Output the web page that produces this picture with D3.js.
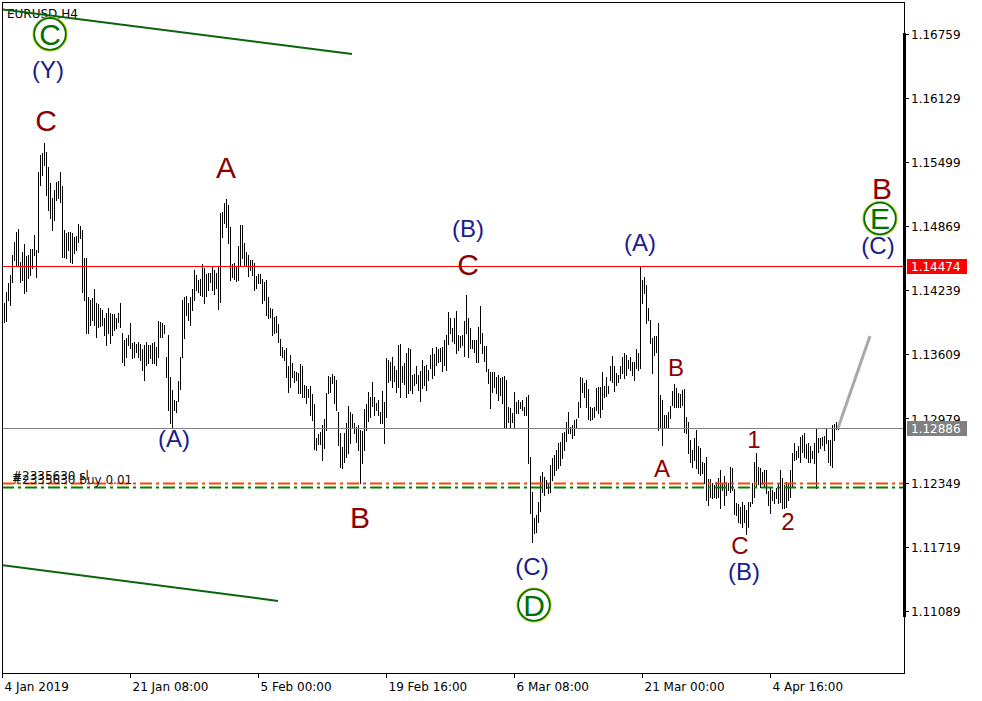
<!DOCTYPE html>
<html><head><meta charset="utf-8">
<script src="https://cdn.jsdelivr.net/npm/d3@7"></script>
<style>html,body{margin:0;padding:0;background:#fff;overflow:hidden}</style>
</head><body>
<svg id="chart" width="982" height="701"></svg>
<script>
// ---------- data ----------
const symbolTitle = "EURUSD,H4";

// H4 bar highs / lows (one per bar, oldest first)
const highs = [
1.1409,1.1411,1.1422,1.1431,1.1439,1.1459,1.1471,1.1481,1.1484,1.1452,1.1462,1.1469,1.1458,1.1459,1.1465,1.1465,1.1478,1.1464,1.1540,1.1557,
1.1559,1.1569,1.1560,1.1545,1.1529,1.1515,1.1523,1.1530,1.1531,1.1540,1.1526,1.1483,1.1480,1.1481,1.1481,1.1480,1.1476,1.1477,1.1489,1.1487,
1.1483,1.1456,1.1456,1.1417,1.1414,1.1416,1.1425,1.1411,1.1410,1.1407,1.1405,1.1397,1.1402,1.1407,1.1402,1.1401,1.1401,1.1397,1.1402,1.1411,
1.1382,1.1375,1.1377,1.1380,1.1392,1.1372,1.1373,1.1371,1.1373,1.1371,1.1366,1.1370,1.1373,1.1370,1.1370,1.1372,1.1373,1.1368,1.1394,1.1393,
1.1392,1.1390,1.1358,1.1380,1.1339,1.1326,1.1316,1.1315,1.1335,1.1358,1.1414,1.1417,1.1418,1.1411,1.1417,1.1425,1.1444,1.1439,1.1434,1.1435,
1.1450,1.1446,1.1440,1.1441,1.1441,1.1447,1.1444,1.1441,1.1447,1.1500,1.1501,1.1510,1.1514,1.1508,1.1486,1.1450,1.1451,1.1447,1.1467,1.1488,
1.1488,1.1470,1.1462,1.1459,1.1454,1.1454,1.1451,1.1438,1.1440,1.1440,1.1435,1.1432,1.1434,1.1417,1.1407,1.1406,1.1398,1.1399,1.1391,1.1376,
1.1368,1.1365,1.1367,1.1349,1.1360,1.1352,1.1345,1.1344,1.1343,1.1351,1.1349,1.1331,1.1330,1.1327,1.1330,1.1322,1.1312,1.1279,1.1283,1.1285,
1.1291,1.1297,1.1323,1.1340,1.1339,1.1342,1.1340,1.1336,1.1304,1.1284,1.1270,1.1284,1.1293,1.1310,1.1304,1.1302,1.1293,1.1290,1.1291,1.1287,
1.1286,1.1307,1.1312,1.1324,1.1319,1.1334,1.1319,1.1313,1.1316,1.1304,1.1325,1.1314,1.1357,1.1355,1.1353,1.1358,1.1349,1.1346,1.1370,1.1371,
1.1349,1.1352,1.1362,1.1367,1.1366,1.1341,1.1342,1.1349,1.1341,1.1345,1.1355,1.1349,1.1350,1.1346,1.1360,1.1367,1.1361,1.1368,1.1366,1.1367,
1.1368,1.1375,1.1380,1.1403,1.1397,1.1387,1.1397,1.1404,1.1380,1.1379,1.1380,1.1394,1.1419,1.1397,1.1387,1.1375,1.1375,1.1375,1.1388,1.1408,
1.1382,1.1369,1.1369,1.1347,1.1344,1.1344,1.1344,1.1339,1.1341,1.1338,1.1339,1.1340,1.1336,1.1309,1.1308,1.1303,1.1324,1.1314,1.1316,1.1314,
1.1316,1.1309,1.1319,1.1321,1.1260,1.1226,1.1200,1.1203,1.1216,1.1241,1.1245,1.1240,1.1237,1.1234,1.1252,1.1259,1.1262,1.1267,1.1274,1.1275,
1.1284,1.1285,1.1294,1.1304,1.1290,1.1291,1.1296,1.1297,1.1314,1.1339,1.1338,1.1333,1.1336,1.1327,1.1309,1.1308,1.1309,1.1328,1.1329,1.1329,
1.1344,1.1330,1.1339,1.1330,1.1349,1.1359,1.1349,1.1343,1.1341,1.1349,1.1358,1.1362,1.1360,1.1355,1.1358,1.1353,1.1353,1.1366,1.1362,1.1447,
1.1434,1.1437,1.1429,1.1407,1.1395,1.1377,1.1379,1.1379,1.1392,1.1321,1.1316,1.1301,1.1301,1.1304,1.1310,1.1325,1.1332,1.1328,1.1323,1.1322,
1.1326,1.1327,1.1299,1.1294,1.1277,1.1267,1.1279,1.1287,1.1271,1.1269,1.1255,1.1254,1.1260,1.1238,1.1238,1.1234,1.1232,1.1235,1.1239,1.1247,
1.1234,1.1241,1.1235,1.1234,1.1250,1.1249,1.1229,1.1215,1.1214,1.1211,1.1216,1.1213,1.1208,1.1216,1.1216,1.1234,1.1255,1.1264,1.1250,1.1249,
1.1245,1.1247,1.1247,1.1227,1.1231,1.1228,1.1226,1.1230,1.1233,1.1247,1.1239,1.1232,1.1235,1.1233,1.1247,1.1264,1.1274,1.1266,1.1271,1.1280,
1.1282,1.1284,1.1273,1.1274,1.1271,1.1266,1.1274,1.1289,1.1279,1.1279,1.1280,1.1281,1.1288,1.1277,1.1277,1.1291,1.1292,1.1294,1.1292
];
const lows = [
1.1393,1.1393,1.1394,1.1414,1.1409,1.1432,1.1454,1.1449,1.1448,1.1432,1.1434,1.1421,1.1423,1.1436,1.1439,1.1446,1.1459,1.1437,1.1462,1.1527,
1.1537,1.1547,1.1518,1.1503,1.1495,1.1483,1.1493,1.1513,1.1515,1.1511,1.1457,1.1457,1.1456,1.1464,1.1452,1.1451,1.1461,1.1464,1.1471,1.1475,
1.1422,1.1414,1.1382,1.1382,1.1390,1.1395,1.1390,1.1378,1.1388,1.1389,1.1390,1.1380,1.1370,1.1382,1.1372,1.1380,1.1385,1.1387,1.1393,1.1388,
1.1353,1.1350,1.1358,1.1370,1.1367,1.1357,1.1358,1.1363,1.1358,1.1355,1.1346,1.1336,1.1350,1.1352,1.1357,1.1352,1.1352,1.1350,1.1358,1.1378,
1.1378,1.1382,1.1339,1.1306,1.1293,1.1290,1.1306,1.1304,1.1315,1.1327,1.1358,1.1377,1.1400,1.1395,1.1390,1.1405,1.1414,1.1424,1.1422,1.1419,
1.1418,1.1411,1.1418,1.1424,1.1432,1.1424,1.1420,1.1426,1.1406,1.1412,1.1476,1.1490,1.1486,1.1470,1.1434,1.1437,1.1435,1.1433,1.1434,1.1449,
1.1456,1.1448,1.1448,1.1438,1.1444,1.1439,1.1424,1.1426,1.1431,1.1431,1.1411,1.1414,1.1400,1.1397,1.1398,1.1380,1.1382,1.1383,1.1373,1.1360,
1.1358,1.1355,1.1339,1.1324,1.1329,1.1339,1.1334,1.1336,1.1323,1.1323,1.1319,1.1319,1.1313,1.1319,1.1301,1.1296,1.1268,1.1267,1.1273,1.1273,
1.1257,1.1269,1.1287,1.1323,1.1324,1.1333,1.1313,1.1306,1.1272,1.1250,1.1249,1.1255,1.1260,1.1264,1.1274,1.1290,1.1284,1.1275,1.1267,1.1234,
1.1254,1.1267,1.1287,1.1295,1.1299,1.1310,1.1301,1.1306,1.1301,1.1293,1.1293,1.1274,1.1299,1.1334,1.1336,1.1329,1.1335,1.1324,1.1329,1.1319,
1.1334,1.1332,1.1319,1.1323,1.1326,1.1323,1.1331,1.1333,1.1326,1.1315,1.1328,1.1331,1.1326,1.1336,1.1348,1.1338,1.1341,1.1350,1.1353,1.1354,
1.1345,1.1350,1.1346,1.1371,1.1382,1.1374,1.1372,1.1362,1.1365,1.1368,1.1370,1.1359,1.1382,1.1358,1.1367,1.1367,1.1363,1.1353,1.1353,1.1372,
1.1362,1.1354,1.1345,1.1333,1.1308,1.1324,1.1329,1.1323,1.1316,1.1321,1.1313,1.1290,1.1289,1.1294,1.1289,1.1294,1.1289,1.1303,1.1303,1.1308,
1.1306,1.1301,1.1301,1.1254,1.1205,1.1176,1.1185,1.1186,1.1196,1.1207,1.1226,1.1223,1.1230,1.1225,1.1226,1.1237,1.1242,1.1247,1.1249,1.1252,
1.1259,1.1267,1.1276,1.1284,1.1284,1.1279,1.1282,1.1289,1.1299,1.1309,1.1324,1.1319,1.1309,1.1297,1.1296,1.1297,1.1299,1.1306,1.1303,1.1299,
1.1307,1.1319,1.1320,1.1323,1.1336,1.1334,1.1325,1.1331,1.1334,1.1338,1.1343,1.1338,1.1341,1.1348,1.1346,1.1341,1.1336,1.1348,1.1346,1.1348,
1.1411,1.1421,1.1392,1.1395,1.1372,1.1343,1.1360,1.1363,1.1287,1.1289,1.1272,1.1289,1.1289,1.1290,1.1298,1.1311,1.1309,1.1309,1.1309,1.1309,
1.1311,1.1285,1.1284,1.1264,1.1255,1.1250,1.1257,1.1249,1.1244,1.1242,1.1244,1.1234,1.1218,1.1213,1.1221,1.1220,1.1221,1.1220,1.1221,1.1210,
1.1228,1.1213,1.1223,1.1228,1.1226,1.1228,1.1204,1.1203,1.1196,1.1195,1.1191,1.1196,1.1184,1.1191,1.1212,1.1215,1.1221,1.1231,1.1233,1.1231,
1.1233,1.1231,1.1225,1.1213,1.1205,1.1218,1.1215,1.1220,1.1215,1.1216,1.1210,1.1210,1.1211,1.1218,1.1221,1.1231,1.1257,1.1258,1.1260,1.1255,
1.1265,1.1260,1.1259,1.1255,1.1255,1.1259,1.1254,1.1230,1.1265,1.1269,1.1272,1.1267,1.1274,1.1255,1.1252,1.1250,1.1277,1.1288,1.1288
];

const priceTicks = [1.16759, 1.16129, 1.15499, 1.14869, 1.14239, 1.13609, 1.12979, 1.12349, 1.11719, 1.11089];
const dateTickIndex = [0, 64, 128, 192, 256, 320, 384];
const dateTickLabels = ["4 Jan 2019", "21 Jan 08:00", "5 Feb 00:00", "19 Feb 16:00", "6 Mar 08:00", "21 Mar 00:00", "4 Apr 16:00"];

// horizontal price levels with scale tags
const levelPrices = [1.14474, 1.12886];
const levelKinds = ["red", "bid"];

// order lines
const orderPrices = [1.12348, 1.12308];
const orderLabels = ["#2335630 sl", "#2335630 buy 0.01"];
const orderKinds = ["sl", "open"];

// trend lines (bar index, price)
const trendStartIdx = [0, 0];
const trendStartPrice = [1.1700, 1.11538];
const trendEndIdx = [175, 138];
const trendEndPrice = [1.16562, 1.11185];

// projection line
const projIdx = [418, 434];
const projPrice = [1.12886, 1.1379];

// Elliott wave labels (bar index, price)
const waveText  = ["C","A","B","C","B",  "B","A","1","2","C",  "(Y)","(A)","(B)","(C)","(A)","(B)","(C)",  "C","D","E"];
const waveIdx   = [22,112,179,233,440,   337,330,376,393,369,   23,86,233,265,319,371,438,   24,266,439];
const wavePrice = [1.15805,1.15343,1.11902,1.14389,1.15137,
                   1.13397,1.12404,1.12689,1.11883,1.11647,
                   1.16326,1.12700,1.14763,1.11440,1.14625,1.11391,1.14596,
                   1.16759,1.11145,1.14945];
const waveKind  = ["major","major","major","major","major",
                   "minor","minor","minor","minor","minor",
                   "inter","inter","inter","inter","inter","inter","inter",
                   "circle","circle","circle"];

// ---------- drawing ----------
const W = 982, H = 701;
const plotL = 2, plotT = 2, plotR = 904, plotB = 673;
const svg = d3.select("#chart");
const N = Math.min(highs.length, lows.length);

const x = d3.scaleLinear().domain([0, 418]).range([2, 838]);
const y = d3.scaleLinear().domain([1.11089, 1.16759]).range([610.7, 34]);

svg.append("rect").attr("width", W).attr("height", H).attr("fill", "#fff");

svg.append("defs").append("clipPath").attr("id", "plotclip")
  .append("rect").attr("x", plotL + 1).attr("y", plotT + 1)
  .attr("width", plotR - plotL - 1).attr("height", plotB - plotT - 1);

const plot = svg.append("g").attr("clip-path", "url(#plotclip)");

// title
plot.append("text").attr("x", 7).attr("y", 18)
  .attr("font-family", "DejaVu Sans").attr("font-size", 12).attr("fill", "#000")
  .text(symbolTitle);

// bars
plot.append("g").attr("shape-rendering", "crispEdges")
  .selectAll("line").data(d3.range(N)).join("line")
  .attr("x1", i => Math.round(x(i)) + 0.5).attr("x2", i => Math.round(x(i)) + 0.5)
  .attr("y1", i => Math.round(y(highs[i])))
  .attr("y2", i => Math.round(y(lows[i])) + 1)
  .style("stroke", "#000").style("stroke-width", 1);

// order lines
const orderColor = {sl: "#ff4500", open: "#008000"};
const og = plot.append("g");
orderPrices.forEach((p, i) => {
  const ly = Math.round(y(p)) + 0.5;
  og.append("line")
    .attr("x1", plotL).attr("x2", plotR).attr("y1", ly).attr("y2", ly)
    .style("stroke", orderColor[orderKinds[i]]).style("stroke-width", 2)
    .style("stroke-dasharray", "12 4 3 4");
});
orderPrices.forEach((p, i) => {
  og.append("text").attr("x", 12).attr("y", Math.round(y(p)) - 3)
    .attr("font-family", "DejaVu Sans").attr("font-size", 12).style("fill", "#111")
    .text(orderLabels[i]);
});

// horizontal levels
const levelColor = {red: "#ff0000", bid: "#808080"};
plot.append("g").attr("shape-rendering", "crispEdges")
  .selectAll("line").data(levelPrices).join("line")
  .attr("x1", plotL).attr("x2", plotR)
  .attr("y1", d => Math.round(y(d)) + 0.5).attr("y2", d => Math.round(y(d)) + 0.5)
  .style("stroke", (d, i) => levelColor[levelKinds[i]]).style("stroke-width", 1);

// trend lines
plot.append("g").selectAll("line").data(trendStartIdx).join("line")
  .attr("x1", (d, i) => x(trendStartIdx[i])).attr("y1", (d, i) => y(trendStartPrice[i]))
  .attr("x2", (d, i) => x(trendEndIdx[i])).attr("y2", (d, i) => y(trendEndPrice[i]))
  .style("stroke", "#0b640b").style("stroke-width", 2);

// projection
plot.append("line")
  .attr("x1", x(projIdx[0])).attr("y1", y(projPrice[0]))
  .attr("x2", x(projIdx[1])).attr("y2", y(projPrice[1]))
  .style("stroke", "#a9a9a9").style("stroke-width", 3);

// wave labels
const kindStyle = {
  major: {size: 30, color: "#8b0000"},
  minor: {size: 24, color: "#8b0000"},
  inter: {size: 24, color: "#1c1c8a"},
  circle: {size: 30, color: "#007000"}
};
const wl = plot.append("g");
waveText.forEach((t, i) => {
  const k = waveKind[i], st = kindStyle[k];
  const cx = x(waveIdx[i]), cy = y(wavePrice[i]);
  if (k === "circle") {
    wl.append("circle").attr("cx", cx).attr("cy", cy).attr("r", 17)
      .style("fill", "none").style("stroke", "#c8c820").style("stroke-width", 1.2);
    wl.append("circle").attr("cx", cx).attr("cy", cy).attr("r", 15.8)
      .style("fill", "none").style("stroke", "#007000").style("stroke-width", 1.8);
    wl.append("text").attr("x", cx).attr("y", cy + 10.8)
      .attr("text-anchor", "middle").attr("font-family", "Liberation Sans")
      .attr("font-size", st.size).style("fill", st.color).text(t);
  } else {
    wl.append("text").attr("x", cx).attr("y", cy)
      .attr("text-anchor", "middle").attr("font-family", "Liberation Sans")
      .attr("font-size", st.size).style("fill", st.color).text(t);
  }
});

// frame
svg.append("rect").attr("x", plotL + 0.5).attr("y", plotT + 0.5)
  .attr("width", plotR - plotL).attr("height", plotB - plotT)
  .style("fill", "none").style("stroke", "#000").style("stroke-width", 1)
  .attr("shape-rendering", "crispEdges");

// price axis
const yAxis = d3.axisRight(y).tickValues(priceTicks).tickFormat(d3.format(".5f"))
  .tickSize(4).tickPadding(2);
const ya = svg.append("g").attr("transform", `translate(${plotR + 1},0)`).call(yAxis);
ya.select(".domain").remove();
ya.selectAll(".tick line").style("stroke", "#000").attr("shape-rendering", "crispEdges");
ya.selectAll(".tick text").attr("font-family", "DejaVu Sans").attr("font-size", 12)
  .style("fill", "#000").attr("dy", "0.38em");
svg.append("rect").attr("x", plotR - 1).attr("y", 33).attr("width", 3).attr("height", 584)
  .style("fill", "#000");

// level tags on scale
const tags = svg.append("g");
levelPrices.forEach((p, i) => {
  const ly = Math.round(y(p));
  tags.append("rect").attr("x", 907).attr("y", ly - 7).attr("width", 60).attr("height", 15)
    .style("fill", levelColor[levelKinds[i]]);
  tags.append("text").attr("x", 911).attr("y", ly + 4.5)
    .attr("font-family", "DejaVu Sans").attr("font-size", 12).style("fill", "#fff")
    .text(d3.format(".5f")(p));
});

// date axis
const xAxis = d3.axisBottom(x).tickValues(dateTickIndex)
  .tickFormat((d, i) => dateTickLabels[i]).tickSize(4).tickPadding(5);
const xa = svg.append("g").attr("transform", `translate(0,${plotB + 0.5})`).call(xAxis);
xa.select(".domain").remove();
xa.selectAll(".tick line").style("stroke", "#000").attr("shape-rendering", "crispEdges");
xa.selectAll(".tick text").attr("font-family", "DejaVu Sans").attr("font-size", 12)
  .style("fill", "#000").attr("text-anchor", "start").attr("x", 2);
</script>
</body></html>
